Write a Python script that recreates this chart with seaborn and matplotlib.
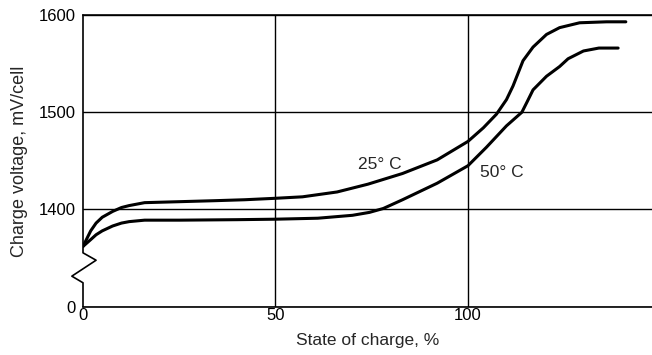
import numpy as np
import pandas as pd
import matplotlib
matplotlib.use("Agg")
import matplotlib.pyplot as plt
import seaborn as sns

# state of charge (%) and charge voltage (mV/cell)
soc_25 = [0, 2, 3.4, 5, 7.7, 10, 12, 16, 25, 34, 42, 50, 57, 66, 74, 83, 92,
          100, 104, 107.4, 110, 111.7, 113, 114.3, 116.9, 120.4, 123.8, 129, 136, 141]
volt_25 = [1362, 1378, 1386, 1392, 1398, 1402, 1404, 1407, 1408, 1409, 1410, 1411.5,
           1413, 1418, 1426, 1437, 1451, 1470, 1484, 1498, 1513, 1527, 1540, 1553,
           1567, 1580, 1587, 1592, 1593, 1593]

soc_50 = [0, 2, 3.4, 5, 7.7, 10, 12, 16, 25, 40, 50, 61, 70, 74.4, 78, 83, 92,
          100, 104.8, 110, 114, 115.4, 116.9, 120.4, 123.8, 126, 130, 134, 139]
volt_50 = [1362, 1369, 1374, 1378, 1383, 1386, 1387.5, 1389, 1389, 1389.5, 1390,
           1391, 1394, 1397, 1401, 1410, 1427, 1445, 1464, 1486, 1500, 1511, 1523,
           1537, 1547, 1555, 1563, 1566, 1566]

series_names = ["25° C", "50° C"]
x_ticks = [0, 50, 100]
y_ticks = [1300, 1400, 1500, 1600]
y_ticklabels = ["0", "1400", "1500", "1600"]

df = pd.concat([
    pd.DataFrame({"soc": soc_25, "volt": volt_25, "temp": series_names[0]}),
    pd.DataFrame({"soc": soc_50, "volt": volt_50, "temp": series_names[1]}),
])

sns.set_style("white")
plt.rcParams["font.family"] = ["Liberation Sans", "DejaVu Sans"]

fig = plt.figure(figsize=(6.52, 3.55), dpi=100)
ax = fig.add_axes([83 / 652, 1 - 306.7 / 355, 1 - 83 / 652, (306.7 - 15) / 355])

sns.lineplot(data=df, x="soc", y="volt", hue="temp", units="temp", estimator=None,
             palette=["black", "black"], linewidth=2.2, legend=False, sort=False, ax=ax)

ax.set_xlim(0, 147.8)
ax.set_ylim(1300, 1600)
ax.set_xticks(x_ticks)
ax.set_yticks(y_ticks)
ax.set_yticklabels(y_ticklabels)
ax.tick_params(length=0, labelsize=12, colors="black")
ax.tick_params(axis="x", pad=1)
ax.tick_params(axis="y", pad=5)
ax.grid(True, color="black", linewidth=1.0)
ax.get_xgridlines()[0].set_visible(False)

ax.spines["right"].set_visible(False)
ax.spines["left"].set_visible(False)
for s in ["top", "bottom"]:
    ax.spines[s].set_color("black")
    ax.spines[s].set_linewidth(1.2)

# left axis with the break zigzag
brk_x = [0, 0, -2.9, 3.4, 0, 0]
brk_y = [1300, 1324.6, 1331.4, 1347.8, 1355.4, 1600]
ax.plot(brk_x, brk_y, color="black", linewidth=1.2, clip_on=False)

ax.text(77.2, 1446.3, series_names[0], fontsize=12.5, ha="center", va="center")
ax.text(108.7, 1437.8, series_names[1], fontsize=12.5, ha="center", va="center")

ax.set_xlabel("State of charge, %", fontsize=12.5, labelpad=7)
ax.set_ylabel("Charge voltage, mV/cell", fontsize=13, labelpad=8)

fig.savefig("out.png", dpi=100)
